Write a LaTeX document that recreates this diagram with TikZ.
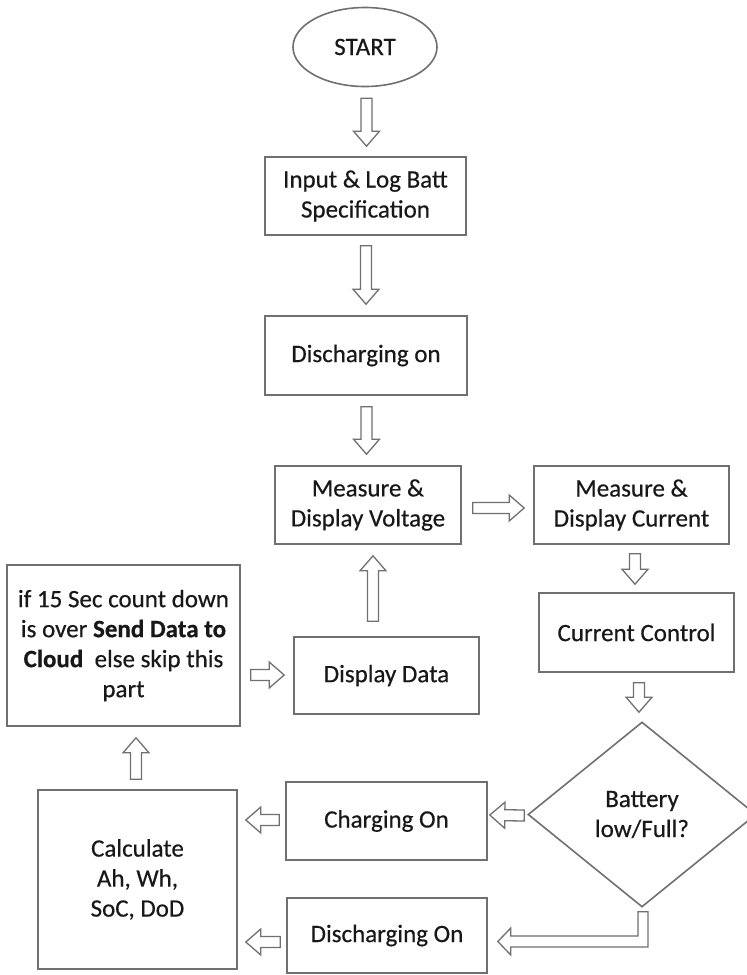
\documentclass[tikz,border=0pt]{standalone}
\usepackage{fontspec}
\setmainfont{Carlito}[UprightFeatures={FakeBold=0.45},BoldFeatures={FakeBold=0.45}]
\usetikzlibrary{shapes.geometric,calc}

\definecolor{edgegray}{RGB}{112,112,112}
\definecolor{inkdark}{RGB}{24,24,24}

% Outlined block arrow from a tail point to a tip point
\newcommand{\blockarrow}[2]{%
  \coordinate (ba-base) at ($(#2)!15pt!(#1)$);
  \draw[arrowline]
    ($(#1)!5.5pt!90:(#2)$) -- ($(ba-base)!5.5pt!90:(#2)$) --
    ($(ba-base)!13pt!90:(#2)$) -- (#2) --
    ($(ba-base)!13pt!-90:(#2)$) -- ($(ba-base)!5.5pt!-90:(#2)$) --
    ($(#1)!5.5pt!-90:(#2)$) -- cycle;
}

\begin{document}
\begin{tikzpicture}[x=1pt,y=-1pt,
  every node/.style={font=\fontsize{25}{30}\selectfont, text=inkdark},
  box/.style={draw=edgegray, line width=1.6pt, rectangle, inner sep=0pt, align=center},
  arrowline/.style={draw=edgegray, line width=1.3pt, line join=miter, fill=white},
]
\useasboundingbox (0,0) rectangle (747,975);
\fill[white] (0,0) rectangle (747,975);

% process steps
\node[box, ellipse, minimum width=144pt, minimum height=79pt] (start) at (365,47) {START};
\node[box, minimum width=201pt, minimum height=78pt] (spec) at (365.5,196) {Input \& Log Batt\\Specification};
\node[box, minimum width=202pt, minimum height=79pt] (dison) at (366,355.5) {Discharging on};
\node[box, minimum width=186pt, minimum height=78pt] (volt) at (368,505) {Measure \&\\Display Voltage};
\node[box, minimum width=195pt, minimum height=78pt] (curr) at (631.5,505) {Measure \&\\Display Current};
\node[box, minimum width=195pt, minimum height=79pt] (ctrl) at (636.5,632.5) {Current Control};
\node[box, minimum width=185pt, minimum height=77pt] (disp) at (386.5,675.5) {Display Data};
\node[box, minimum width=233pt, minimum height=161pt] (cloud) at (123.5,645.5)
  {if 15 Sec count down\\is over \textbf{Send Data to}\\\textbf{Cloud}\ \ else skip this\\part};
\node[box, diamond, minimum width=228pt, minimum height=185pt] (dia) at (642,814.5) {Battery\\low/Full?};
\node[box, minimum width=201pt, minimum height=78pt] (chg) at (386.5,821) {Charging On};
\node[box, minimum width=200pt, minimum height=75pt] (dchg) at (387,935.5) {Discharging On};
\node[box, minimum width=199pt, minimum height=179pt] (calc) at (137.5,879.5) {Calculate\\Ah, Wh,\\SoC, DoD};

% arrow end points
\coordinate (a1t) at ($(start.south)+(1.5,11)$);
\coordinate (a1h) at ($(spec.north)+(1,-10)$);
\coordinate (a2t) at ($(spec.south)+(0.5,10)$);
\coordinate (a2h) at ($(dison.north)+(0,-11)$);
\coordinate (a3t) at ($(dison.south)+(0.5,11)$);
\coordinate (a3h) at ($(volt.north)+(-1.5,-11)$);
\coordinate (a4t) at ($(volt.east)+(11,3)$);
\coordinate (a4h) at ($(curr.west)+(-9,3)$);
\coordinate (a5t) at ($(curr.south)+(3.5,9)$);
\coordinate (a5h) at ($(ctrl.north)+(-1.5,-8)$);
\coordinate (a6t) at ($(ctrl.south)+(2.5,10)$);
\coordinate (a6h) at ($(dia.north)+(-3,-9)$);
\coordinate (a7t) at ($(dia.west)+(-3,1)$);
\coordinate (a7h) at ($(chg.east)+(2,-6)$);
\coordinate (a8t) at ($(chg.west)+(-6,-1)$);
\coordinate (a8h) at ($(calc.east |- chg.west)+(8,-1)$);
\coordinate (a9t) at ($(dchg.west)+(-6,6.5)$);
\coordinate (a9h) at ($(calc.east |- dchg.west)+(8,6.5)$);
\coordinate (a10t) at ($(calc.north)+(-1.5,-10)$);
\coordinate (a10h) at ($(calc.north |- cloud.south)+(-1.5,11)$);
\coordinate (a11t) at ($(cloud.east |- disp.west)+(10,-0.5)$);
\coordinate (a11h) at ($(disp.west)+(-9,-0.5)$);
\coordinate (a12t) at ($(disp.north)+(-13.5,-15)$);
\coordinate (a12h) at ($(disp.north |- volt.south)+(-13.5,11)$);

\blockarrow{a1t}{a1h}
\blockarrow{a2t}{a2h}
\blockarrow{a3t}{a3h}
\blockarrow{a4t}{a4h}
\blockarrow{a5t}{a5h}
\blockarrow{a6t}{a6h}
\blockarrow{a7t}{a7h}
\blockarrow{a8t}{a8h}
\blockarrow{a9t}{a9h}
\blockarrow{a10t}{a10h}
\blockarrow{a11t}{a11h}
\blockarrow{a12t}{a12h}

% bent arrow from the decision down to "Discharging On"
\coordinate (lt) at ($(dia.south)+(1,4)$);
\coordinate (ltip) at ($(dchg.east)+(10,6)$);
\coordinate (lcor) at (lt |- ltip);
\draw[arrowline]
  ($(lt)+(-5,0)$) -- ($(lt)+(5,0)$) -- ($(lcor)+(5,5.5)$) --
  ($(ltip)+(13,5.5)$) -- ($(ltip)+(13,13.5)$) -- (ltip) --
  ($(ltip)+(13,-13.5)$) -- ($(ltip)+(13,-5.5)$) --
  ($(lcor)+(-5,-5.5)$) -- cycle;
\end{tikzpicture}
\end{document}
